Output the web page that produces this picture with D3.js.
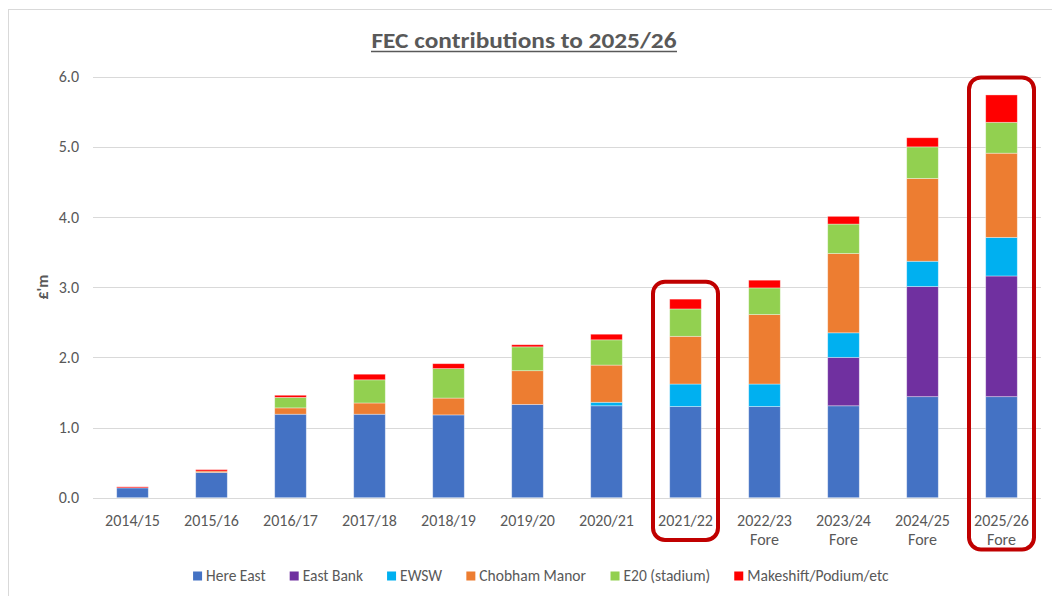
<!DOCTYPE html>
<html>
<head>
<meta charset="utf-8">
<script src="https://cdn.jsdelivr.net/npm/d3@7"></script>
<style>
  html, body { margin: 0; padding: 0; background: #ffffff; }
  svg { display: block; }
  text { font-family: Calibri, Carlito, "Liberation Sans", Arial, sans-serif; }
</style>
</head>
<body>
<svg id="chart" width="1052" height="596"></svg>
<script>
// ---- data ----
const categories = ["2014/15","2015/16","2016/17","2017/18","2018/19","2019/20","2020/21","2021/22","2022/23 Fore","2023/24 Fore","2024/25 Fore","2025/26 Fore"];
const seriesNames = ["Here East","East Bank","EWSW","Chobham Manor","E20 (stadium)","Makeshift/Podium/etc"];
const hereEast    = [0.14, 0.36, 1.19, 1.19, 1.18, 1.33, 1.31, 1.30, 1.30, 1.31, 1.44, 1.44];
const eastBank    = [0,    0,    0,    0,    0,    0,    0,    0,    0,    0.69, 1.57, 1.72];
const ewsw        = [0,    0,    0,    0,    0,    0,    0.05, 0.32, 0.32, 0.35, 0.36, 0.55];
const chobham     = [0,    0.02, 0.09, 0.16, 0.24, 0.48, 0.53, 0.68, 0.99, 1.13, 1.18, 1.20];
const e20         = [0,    0,    0.15, 0.33, 0.42, 0.34, 0.36, 0.39, 0.38, 0.42, 0.45, 0.44];
const makeshift   = [0.015,0.02, 0.03, 0.08, 0.07, 0.03, 0.08, 0.14, 0.11, 0.11, 0.13, 0.39];
const yTicks = [0, 1, 2, 3, 4, 5, 6];
const highlighted = ["2021/22", "2025/26 Fore"];
const colors = ["#4472C4","#7030A0","#00B0F0","#ED7D31","#92D050","#FF0000"];
const titleText = "FEC contributions to 2025/26";
const yLabel = "£'m";

// ---- build table ----
const seriesArrays = [hereEast, eastBank, ewsw, chobham, e20, makeshift];
const table = categories.map((c, i) => {
  const row = { cat: c };
  seriesNames.forEach((s, k) => row[s] = seriesArrays[k][i]);
  return row;
});
const stacked = d3.stack().keys(seriesNames)(table);

const svg = d3.select("#chart");
const W = 1052, H = 596;
const plot = { left: 93, right: 1041, top: 76.7, bottom: 497.7 };

// chart border
svg.append("rect")
  .attr("x", 8.5).attr("y", 9.5)
  .attr("width", W + 20).attr("height", H + 20)
  .attr("fill", "none").attr("stroke", "#D9D9D9").attr("stroke-width", 1);

const x = d3.scaleBand().domain(categories).range([plot.left, plot.right]).paddingInner(0.6).paddingOuter(0.3);
const y = d3.scaleLinear().domain([0, 6]).range([plot.bottom, plot.top]);

// gridlines
svg.append("g").selectAll("line").data(yTicks).join("line")
  .attr("x1", plot.left).attr("x2", plot.right)
  .attr("y1", d => Math.round(y(d)) + 0.5).attr("y2", d => Math.round(y(d)) + 0.5)
  .attr("stroke", "#D9D9D9").attr("stroke-width", 1.2);

// y tick labels
svg.append("g").selectAll("text").data(yTicks).join("text")
  .attr("x", 79).attr("y", d => y(d)).attr("dy", "0.35em")
  .attr("text-anchor", "end").attr("font-size", 16).attr("fill", "#595959")
  .text(d => d3.format(".1f")(d));

// y axis title
svg.append("text")
  .attr("transform", `translate(48,${y(3)}) rotate(-90)`)
  .attr("text-anchor", "middle").attr("font-size", 16).attr("font-weight", "bold")
  .attr("fill", "#595959").text(yLabel);

// bars
svg.append("g").selectAll("g").data(stacked).join("g")
  .attr("fill", (d, i) => colors[i])
  .selectAll("rect").data(d => d.filter(p => p[1] - p[0] > 0)).join("rect")
  .attr("x", d => x(d.data.cat))
  .attr("width", x.bandwidth())
  .attr("y", d => y(d[1]))
  .attr("height", d => y(d[0]) - y(d[1]))
  .attr("stroke", "rgba(255,255,255,0.45)").attr("stroke-width", 0.8);

// x labels
const xl = svg.append("g").selectAll("text").data(categories).join("text")
  .attr("x", d => x(d) + x.bandwidth() / 2)
  .attr("y", 526)
  .attr("text-anchor", "middle").attr("font-size", 16).attr("fill", "#595959");
xl.each(function(d) {
  const parts = d.split(" ");
  const t = d3.select(this);
  parts.forEach((p, i) => {
    t.append("tspan").attr("x", x(d) + x.bandwidth() / 2).attr("dy", i === 0 ? 0 : 19).text(p);
  });
});

// highlight boxes
const totals = categories.map((c, i) => seriesArrays.reduce((s, a) => s + a[i], 0));
highlighted.forEach(c => {
  const i = categories.indexOf(c);
  const cx = x(c) + x.bandwidth() / 2;
  const top = y(totals[i]) - 17.5;
  const bottom = c.includes(" ") ? 549.5 : 540;
  svg.append("rect")
    .attr("x", cx - 32.5).attr("y", top)
    .attr("width", 65).attr("height", bottom - top)
    .attr("rx", 12).attr("ry", 12)
    .attr("fill", "none").attr("stroke", "#C00000").attr("stroke-width", 4);
});

// title
svg.append("text")
  .attr("x", 524).attr("y", 48)
  .attr("text-anchor", "middle").attr("font-size", 22).attr("font-weight", "bold")
  .attr("fill", "#595959")
  .attr("textLength", 305).attr("lengthAdjust", "spacingAndGlyphs")
  .text(titleText);
svg.append("line")
  .attr("x1", 524 - 153).attr("x2", 524 + 153)
  .attr("y1", 51.5).attr("y2", 51.5)
  .attr("stroke", "#595959").attr("stroke-width", 1.5);

// legend
const legend = svg.append("g");
const items = legend.selectAll("g").data(seriesNames).join("g");
items.append("rect").attr("width", 9).attr("height", 9).attr("y", -4.5)
  .attr("fill", (d, i) => colors[i]);
items.append("text").attr("x", 13).attr("dy", "0.35em")
  .attr("font-size", 15.5).attr("fill", "#595959").text(d => d);
let cursor = 0;
const widths = [];
items.each(function() { widths.push(this.getBBox().width); });
const gap = 24;
const totalW = d3.sum(widths) + gap * (widths.length - 1);
cursor = 541 - totalW / 2;
items.attr("transform", (d, i) => {
  const px = cursor;
  cursor += widths[i] + gap;
  return `translate(${px},576)`;
});
</script>
</body>
</html>
